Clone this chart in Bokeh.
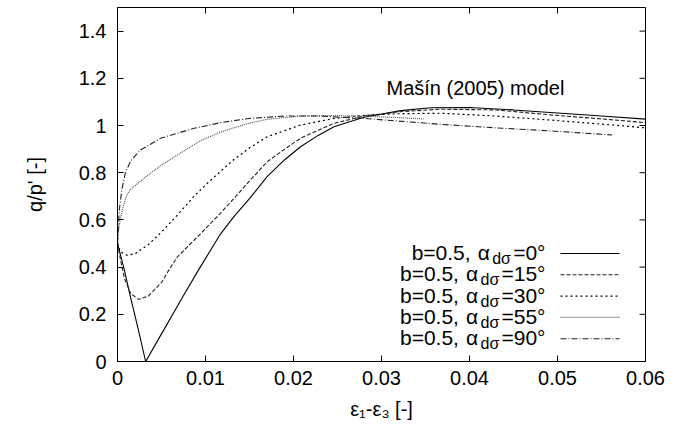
from bokeh.plotting import figure
from bokeh.models import Range1d, FixedTicker, Label
from bokeh.embed import file_html
from bokeh.resources import INLINE

# ---------------- data ----------------
x_a0 = [0, 0.0007, 0.0015, 0.0024, 0.0032, 0.005, 0.0075, 0.0094, 0.0117, 0.0132, 0.015, 0.017,
        0.019, 0.0208, 0.0228, 0.0246, 0.028, 0.0322, 0.0356, 0.040, 0.045, 0.050, 0.055, 0.060]
y_a0 = [0.50, 0.40, 0.27, 0.13, 0.0, 0.117, 0.28, 0.40, 0.54, 0.613, 0.69, 0.783,
        0.855, 0.91, 0.958, 0.995, 1.035, 1.063, 1.075, 1.076, 1.066, 1.053, 1.04, 1.027]

x_a15 = [0, 0.0004, 0.0008, 0.0015, 0.0024, 0.0035, 0.005, 0.0058, 0.0068, 0.0094, 0.0117, 0.0132,
         0.015, 0.017, 0.019, 0.0208, 0.0228, 0.0246, 0.028, 0.032, 0.0367, 0.043, 0.0492, 0.055,
         0.060]
y_a15 = [0.50, 0.42, 0.35, 0.288, 0.263, 0.277, 0.335, 0.385, 0.443, 0.54, 0.628, 0.69,
         0.765, 0.846, 0.90, 0.946, 0.98, 1.009, 1.04, 1.058, 1.069, 1.066, 1.045, 1.028,
         1.012]

x_a30 = [0, 0.0003, 0.0011, 0.002, 0.0035, 0.0049, 0.0068, 0.0087, 0.0102, 0.0117, 0.0132, 0.015,
         0.017, 0.0208, 0.0246, 0.028, 0.032, 0.0367, 0.043, 0.0492, 0.055, 0.060]
y_a30 = [0.50, 0.465, 0.45, 0.457, 0.495, 0.545, 0.62, 0.70, 0.755, 0.805, 0.855, 0.905,
         0.952, 1.002, 1.03, 1.043, 1.05, 1.052, 1.04, 1.023, 1.006, 0.99]

x_a55 = [0, 0.0001, 0.0003, 0.0006, 0.001, 0.0015, 0.003, 0.0049, 0.0068, 0.0094, 0.0117, 0.0132,
         0.015, 0.017, 0.0208, 0.0246, 0.028, 0.0315, 0.0348]
y_a55 = [0.50, 0.55, 0.60, 0.65, 0.70, 0.73, 0.776, 0.83, 0.875, 0.935, 0.972, 0.99,
         1.01, 1.026, 1.04, 1.042, 1.04, 1.034, 1.028]

x_a90 = [0, 0.0001, 0.0002, 0.0005, 0.0009, 0.0015, 0.0026, 0.0049, 0.0087, 0.0117, 0.015, 0.019,
         0.023, 0.028, 0.0367, 0.043, 0.0492, 0.0562]
y_a90 = [0.50, 0.57, 0.64, 0.73, 0.80, 0.85, 0.896, 0.946, 0.988, 1.012, 1.03, 1.04,
         1.04, 1.03, 1.005, 0.99, 0.977, 0.96]

angles = ["0", "15", "30", "55", "90"]
b_value = "0.5"

x_ticks = [0, 0.01, 0.02, 0.03, 0.04, 0.05, 0.06]
x_tick_labels = ["0", "0.01", "0.02", "0.03", "0.04", "0.05", "0.06"]
y_ticks = [0, 0.2, 0.4, 0.6, 0.8, 1.0, 1.2, 1.4]
y_tick_labels = ["0", "0.2", "0.4", "0.6", "0.8", "1", "1.2", "1.4"]

title_text = "Mašín (2005) model"
y_label_text = "q/p' [-]"
x_label_text = "ε₁-ε₃ [-]"

# ---------------- layout / style ----------------
W, H = 692, 436
FL, FR, FT, FB = 117, 645, 7, 361      # frame edges in px
XMIN, XMAX, YMIN, YMAX = 0.0, 0.06, 0.0, 1.5
FONT = "Liberation Sans"
FS = 20
LEG_FS = 21
SUB_FS = 16
TICK_LEN = 6

styles = [
    dict(color="#000000", dash="solid", width=1.1),
    dict(color="#222222", dash="4 2", width=1.1),
    dict(color="#000000", dash="2 3", width=1.2),
    dict(color="#555555", dash="1 1", width=1.2),
    dict(color="#222222", dash="6 2 1 2", width=1.1),
]


def dx(px):
    return XMIN + (px - FL) / (FR - FL) * (XMAX - XMIN)


def dy(py):
    return YMIN + (FB - py) / (FB - FT) * (YMAX - YMIN)


EM = {'b': .556, '=': .584, '.': .278, ',': .278, ' ': .278, 'α': .578, 'd': .556,
      'σ': .56, '°': .4, 'ε': .446, '-': .333, '[': .278, ']': .278}


def tw(s, size):
    return sum(EM.get(c, .556) for c in s) * size


def put(p, text, px, py, size=FS, align="left"):
    # py is the visual middle of the text line
    p.add_layout(Label(x=dx(px), y=dy(py), text=text, text_font=FONT,
                       text_font_size=f"{size}px", text_color="black",
                       text_align=align, text_baseline="middle"))


p = figure(width=W, height=H, output_backend="svg", toolbar_location=None,
           x_range=Range1d(XMIN, XMAX), y_range=Range1d(YMIN, YMAX),
           min_border_left=FL, min_border_right=W - FR,
           min_border_top=FT, min_border_bottom=H - FB)
p.grid.visible = False
p.outline_line_color = "black"
p.outline_line_width = 1
p.background_fill_color = "white"
p.border_fill_color = "white"

for ax in [p.xaxis[0], p.yaxis[0]]:
    ax.major_label_text_font = FONT
    ax.major_label_text_font_size = f"{FS}px"
    ax.major_label_text_color = "black"
    ax.axis_line_color = "black"
    ax.major_tick_line_color = "black"
    ax.major_tick_in = TICK_LEN
    ax.major_tick_out = 0
    ax.minor_tick_line_color = None
    ax.axis_label_text_font = FONT
    ax.axis_label_text_font_size = f"{FS}px"
    ax.axis_label_text_font_style = "normal"
    ax.axis_label_text_color = "black"
p.xaxis[0].ticker = FixedTicker(ticks=x_ticks)
p.xaxis[0].major_label_overrides = dict(zip(x_ticks, x_tick_labels))
p.xaxis[0].major_label_standoff = 9
p.xaxis[0].axis_label = x_label_text
p.xaxis[0].axis_label_standoff = 10
p.yaxis[0].ticker = FixedTicker(ticks=y_ticks)
p.yaxis[0].major_label_overrides = dict(zip(y_ticks, y_tick_labels))
p.yaxis[0].major_label_standoff = 11
p.yaxis[0].axis_label = y_label_text
p.yaxis[0].axis_label_standoff = 30

# mirrored ticks on the top and right frame edges
tlx = TICK_LEN / (FR - FL) * (XMAX - XMIN)
tly = TICK_LEN / (FB - FT) * (YMAX - YMIN)
p.segment(x0=x_ticks, y0=[YMAX] * len(x_ticks), x1=x_ticks, y1=[YMAX - tly] * len(x_ticks),
          line_color="black", line_width=1)
p.segment(x0=[XMAX] * len(y_ticks), y0=y_ticks, x1=[XMAX - tlx] * len(y_ticks), y1=y_ticks,
          line_color="black", line_width=1)

series = [(x_a0, y_a0), (x_a15, y_a15), (x_a30, y_a30), (x_a55, y_a55), (x_a90, y_a90)]
for (xs, ys), st in zip(series, styles):
    p.line(xs, ys, line_color=st["color"], line_dash=st["dash"], line_width=st["width"])

# ---------------- legend (drawn by hand for subscripts) ----------------
LEG_RIGHT = 545
LEG_Y0, LEG_DY = 253, 21.3
LINE_X0, LINE_X1 = 560, 619
for i, (ang, st) in enumerate(zip(angles, styles)):
    ly = LEG_Y0 + i * LEG_DY
    p.line([dx(LINE_X0), dx(LINE_X1)], [dy(ly), dy(ly)], line_color=st["color"],
           line_dash=st["dash"], line_width=st["width"])
    eq = f"={ang}°"
    x_eq = LEG_RIGHT - tw(eq, LEG_FS)
    x_sub = x_eq - 21
    x_al = x_sub - 14.5
    x_b = x_al - 66
    put(p, f"b={b_value},", x_b, ly - 1, size=LEG_FS)
    put(p, "α", x_al, ly - 1, size=LEG_FS)
    put(p, "dσ", x_sub, ly + 5, size=SUB_FS)
    put(p, eq, x_eq, ly - 1, size=LEG_FS)

# ---------------- title ----------------
put(p, title_text, 386, 87)

open("out.html", "w").write(file_html(p, INLINE))
